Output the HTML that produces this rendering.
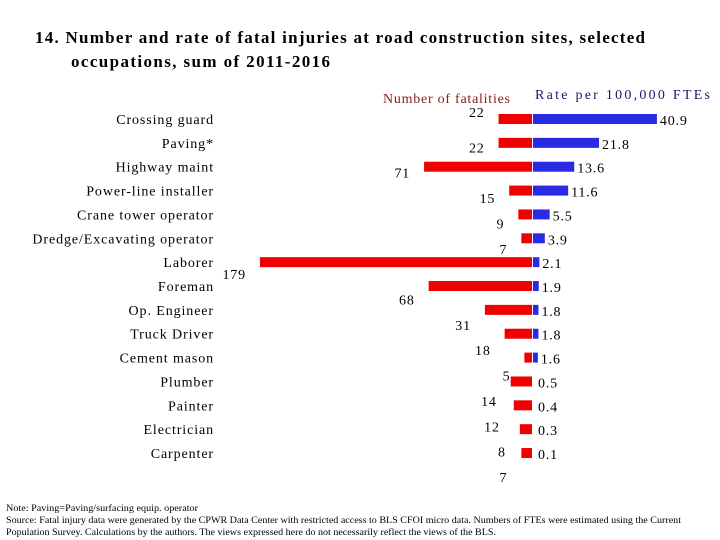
<!DOCTYPE html>
<html><head><meta charset="utf-8"><style>
html,body{margin:0;padding:0;background:#fff;}
svg{display:block;font-family:"Liberation Serif",serif;}
</style></head><body>
<svg id="chart" width="720" height="540" viewBox="0 0 720 540" xmlns="http://www.w3.org/2000/svg">
<text x="35" y="43" font-size="17" font-weight="bold" fill="#000" textLength="610" lengthAdjust="spacing">14. Number and rate of fatal injuries at road construction sites, selected</text>
<text x="71" y="67" font-size="17" font-weight="bold" fill="#000" textLength="259" lengthAdjust="spacing">occupations, sum of 2011-2016</text>
<text x="383" y="103" font-size="14" fill="#8b1a1a" textLength="127" lengthAdjust="spacing">Number of fatalities</text>
<text x="535" y="99" font-size="14" fill="#1a1a6e" textLength="175" lengthAdjust="spacing">Rate per 100,000 FTEs</text>
<g id="rows"></g>
<text x="6" y="511" font-size="9" textLength="192" lengthAdjust="spacingAndGlyphs">Note: Paving=Paving/surfacing equip. operator</text>
<text x="6" y="523" font-size="9" textLength="675" lengthAdjust="spacingAndGlyphs">Source: Fatal injury data were generated by the CPWR Data Center with restricted access to BLS CFOI micro data. Numbers of FTEs were estimated using the Current</text>
<text x="6" y="535" font-size="9" textLength="490" lengthAdjust="spacingAndGlyphs">Population Survey. Calculations by the authors. The views expressed here do not necessarily reflect the views of the BLS.</text>
</svg>
<script>
const categories = ["Crossing guard","Paving*","Highway maint","Power-line installer","Crane tower operator","Dredge/Excavating operator","Laborer","Foreman","Op. Engineer","Truck Driver","Cement mason","Plumber","Painter","Electrician","Carpenter"];
const fatalities = [22,22,71,15,9,7,179,68,31,18,5,14,12,8,7];
const rates = [40.9,21.8,13.6,11.6,5.5,3.9,2.1,1.9,1.8,1.8,1.6,0.5,0.4,0.3,0.1];
const rateLabels = ["40.9","21.8","13.6","11.6","5.5","3.9","2.1","1.9","1.8","1.8","1.6","0.5","0.4","0.3","0.1"];

const NS = "http://www.w3.org/2000/svg";
const g = document.getElementById('rows');
const cx = 532;
const xLeft = v => cx - v * 1.52;
const xRight = v => cx + v * 3.03;
const yRow = i => 119 + i * 23.86;
function mk(tag, attrs){const e=document.createElementNS(NS,tag);for(const k in attrs)e.setAttribute(k,attrs[k]);g.appendChild(e);return e;}

categories.forEach((c,i)=>{
  const y = yRow(i);
  const t = mk('text',{x:214,y:y+5,'font-size':14,'text-anchor':'end','letter-spacing':0.9});
  t.textContent = c;
  
  

  const r = mk('rect',{x:xLeft(fatalities[i]),y:y-5,width:cx-xLeft(fatalities[i]),height:10,fill:'#f00000'});
  
  

  const bw = Math.max(xRight(rates[i])-cx, 0);
  if (rates[i] >= 1) {
    const b = mk('rect',{x:cx+1,y:y-5,width:bw,height:10,fill:'#2a2ae6'});
    
    
  }

  const fl = mk('text',{x:xLeft(fatalities[i])-14,y:(i===0? y-2 : y+8+i*1.5),'font-size':14,'text-anchor':'end','letter-spacing':0.8});
  fl.textContent = fatalities[i];
  
  

  const rl = mk('text',{x:cx+Math.max(bw,2)+4,y:y+6,'font-size':14,'letter-spacing':0.8});
  rl.textContent = rateLabels[i];
  
  
});
</script>
</body></html>
